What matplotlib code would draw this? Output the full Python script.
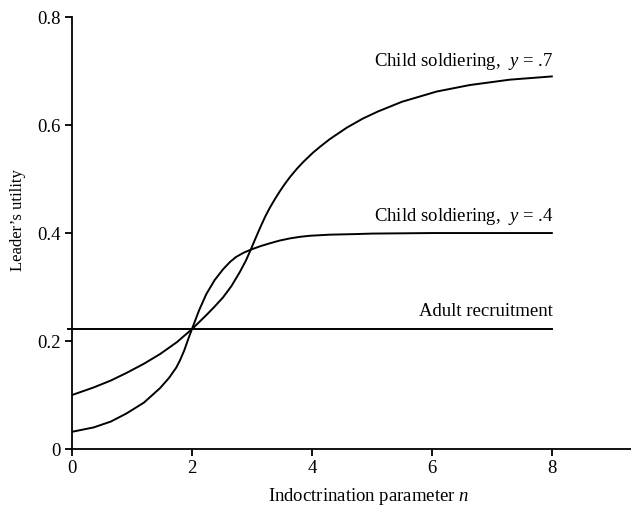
import matplotlib
matplotlib.use('Agg')
import matplotlib.pyplot as plt
from matplotlib.ticker import FuncFormatter

plt.rcParams['font.family'] = 'Liberation Serif'
plt.rcParams['mathtext.fontset'] = 'custom'
plt.rcParams['mathtext.rm'] = 'Liberation Serif'
plt.rcParams['mathtext.it'] = 'Liberation Serif:italic'

# --- data ---
n_y04 = [0.0, 0.36, 0.65, 0.91, 1.2, 1.47, 1.62, 1.74, 1.8, 1.87, 1.94, 2.0,
         2.12, 2.24, 2.38, 2.52, 2.64, 2.74, 2.87, 3.0, 3.15, 3.3, 3.46, 3.63,
         3.8, 3.97, 4.3, 4.7, 5.0, 6.0, 7.0, 8.0]
u_y04 = [0.032, 0.040, 0.051, 0.066, 0.086, 0.113, 0.132, 0.151, 0.164, 0.182,
         0.204, 0.222, 0.257, 0.287, 0.313, 0.333, 0.347, 0.356, 0.364, 0.370,
         0.376, 0.381, 0.386, 0.390, 0.393, 0.395, 0.397, 0.398, 0.399, 0.400,
         0.400, 0.400]

n_y07 = [0.0, 0.36, 0.65, 0.91, 1.2, 1.47, 1.75, 2.0, 2.24, 2.38, 2.52, 2.66,
         2.8, 2.9, 2.98, 3.06, 3.13, 3.22, 3.3, 3.39, 3.47, 3.55, 3.63, 3.75,
         3.86, 4.02, 4.15, 4.3, 4.58, 4.85, 5.1, 5.5, 6.08, 6.63, 7.3, 8.0]
u_y07 = [0.100, 0.114, 0.127, 0.141, 0.158, 0.176, 0.198, 0.222, 0.248, 0.264,
         0.281, 0.302, 0.328, 0.349, 0.369, 0.390, 0.408, 0.430, 0.447, 0.464,
         0.478, 0.491, 0.503, 0.519, 0.532, 0.549, 0.561, 0.574, 0.595, 0.612,
         0.625, 0.643, 0.662, 0.674, 0.684, 0.690]

adult_n = [-0.06, 8.0]
adult_u = [0.222, 0.222]

x_ticks = [0, 2, 4, 6, 8]
y_ticks = [0, 0.2, 0.4, 0.6, 0.8]

fig = plt.figure(figsize=(6.31, 5.08), dpi=100)
ax = fig.add_axes([0.114, 0.116, 0.886, 0.8505])

lw = 1.4
ax.plot(n_y04, u_y04, color='black', linewidth=lw)
ax.plot(n_y07, u_y07, color='black', linewidth=lw)
ax.plot(adult_n, adult_u, color='black', linewidth=lw, clip_on=False)

fs = 13.5
ax.text(8.02, 0.717, 'Child soldiering,  $y$ = .7', ha='right', va='center', fontsize=fs)
ax.text(8.02, 0.430, 'Child soldiering,  $y$ = .4', ha='right', va='center', fontsize=fs)
ax.text(8.02, 0.254, 'Adult recruitment', ha='right', va='center', fontsize=fs)

ax.set_xlim(0, 9.32)
ax.set_ylim(0, 0.8)
ax.set_xticks(x_ticks)
ax.set_yticks(y_ticks)
ax.yaxis.set_major_formatter(FuncFormatter(lambda v, p: '0' if v == 0 else f'{v:.1f}'))
ax.tick_params(direction='out', length=5, width=1.3, labelsize=fs, pad=3)

for s in ['top', 'right']:
    ax.spines[s].set_visible(False)
for s in ['left', 'bottom']:
    ax.spines[s].set_linewidth(1.3)

ax.set_xlabel('Indoctrination parameter $n$', fontsize=fs)
ax.xaxis.set_label_coords(0.53, -0.085)
ax.set_ylabel('Leader’s utility', fontsize=12)
ax.yaxis.set_label_coords(-0.082, 0.53)

fig.savefig('out.png', dpi=100)
